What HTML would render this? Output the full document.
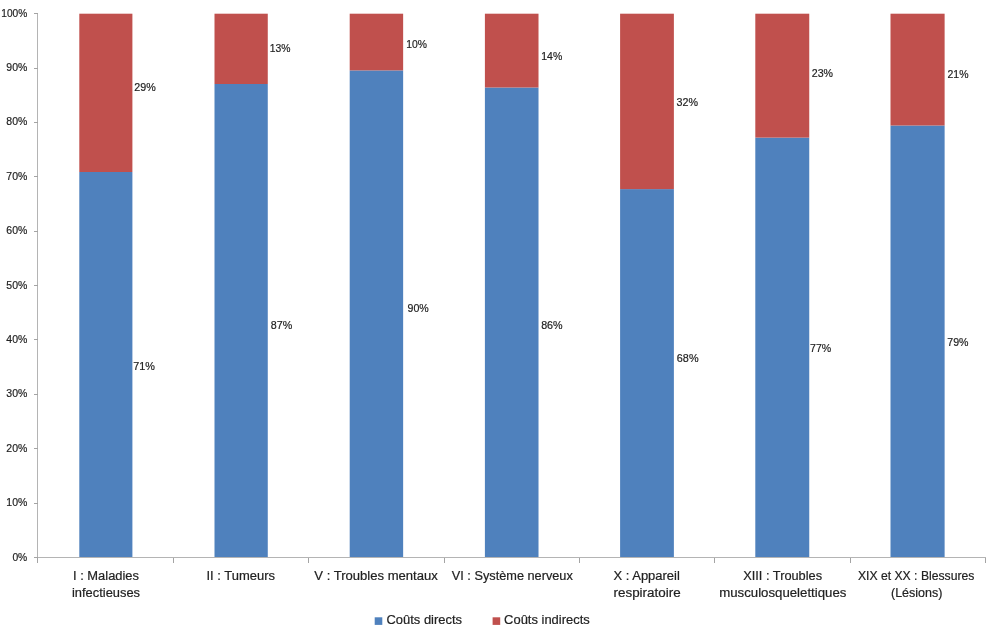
<!DOCTYPE html><html><head><meta charset="utf-8"><style>html,body{margin:0;padding:0;background:#fff;}svg{display:block;will-change:transform;}text{font-family:"Liberation Sans",sans-serif;fill:#222;stroke:#222;stroke-width:0.2px;}</style></head><body>
<svg width="1000" height="638" viewBox="0 0 1000 638">
<rect width="1000" height="638" fill="#fff"/>
<rect x="79.30" y="172.00" width="53.10" height="385.60" fill="#4F81BD"/>
<rect x="79.30" y="13.70" width="53.10" height="158.30" fill="#C0504D"/>
<rect x="214.50" y="84.00" width="53.27" height="473.60" fill="#4F81BD"/>
<rect x="214.50" y="13.70" width="53.27" height="70.30" fill="#C0504D"/>
<rect x="349.70" y="70.40" width="53.44" height="487.20" fill="#4F81BD"/>
<rect x="349.70" y="13.70" width="53.44" height="56.70" fill="#C0504D"/>
<rect x="484.90" y="87.50" width="53.61" height="470.10" fill="#4F81BD"/>
<rect x="484.90" y="13.70" width="53.61" height="73.80" fill="#C0504D"/>
<rect x="620.10" y="189.10" width="53.78" height="368.50" fill="#4F81BD"/>
<rect x="620.10" y="13.70" width="53.78" height="175.40" fill="#C0504D"/>
<rect x="755.30" y="137.60" width="53.95" height="420.00" fill="#4F81BD"/>
<rect x="755.30" y="13.70" width="53.95" height="123.90" fill="#C0504D"/>
<rect x="890.50" y="125.50" width="54.12" height="432.10" fill="#4F81BD"/>
<rect x="890.50" y="13.70" width="54.12" height="111.80" fill="#C0504D"/>
<g stroke="#b4b4b4" stroke-width="1" fill="none" shape-rendering="crispEdges">
<line x1="37.5" y1="13.70" x2="37.5" y2="558"/>
<line x1="33.5" y1="557.5" x2="986" y2="557.5"/>
<line x1="33.5" y1="557.50" x2="37.5" y2="557.50" stroke="#a4a4a4"/>
<line x1="33.5" y1="503.12" x2="37.5" y2="503.12" stroke="#a4a4a4"/>
<line x1="33.5" y1="448.74" x2="37.5" y2="448.74" stroke="#a4a4a4"/>
<line x1="33.5" y1="394.36" x2="37.5" y2="394.36" stroke="#a4a4a4"/>
<line x1="33.5" y1="339.98" x2="37.5" y2="339.98" stroke="#a4a4a4"/>
<line x1="33.5" y1="285.60" x2="37.5" y2="285.60" stroke="#a4a4a4"/>
<line x1="33.5" y1="231.22" x2="37.5" y2="231.22" stroke="#a4a4a4"/>
<line x1="33.5" y1="176.84" x2="37.5" y2="176.84" stroke="#a4a4a4"/>
<line x1="33.5" y1="122.46" x2="37.5" y2="122.46" stroke="#a4a4a4"/>
<line x1="33.5" y1="68.08" x2="37.5" y2="68.08" stroke="#a4a4a4"/>
<line x1="33.5" y1="13.70" x2="37.5" y2="13.70" stroke="#a4a4a4"/>
<line x1="37.50" y1="557.5" x2="37.50" y2="563" stroke="#a4a4a4"/>
<line x1="173.50" y1="557.5" x2="173.50" y2="563" stroke="#a4a4a4"/>
<line x1="308.50" y1="557.5" x2="308.50" y2="563" stroke="#a4a4a4"/>
<line x1="444.50" y1="557.5" x2="444.50" y2="563" stroke="#a4a4a4"/>
<line x1="579.50" y1="557.5" x2="579.50" y2="563" stroke="#a4a4a4"/>
<line x1="714.50" y1="557.5" x2="714.50" y2="563" stroke="#a4a4a4"/>
<line x1="850.50" y1="557.5" x2="850.50" y2="563" stroke="#a4a4a4"/>
<line x1="985.50" y1="557.5" x2="985.50" y2="563" stroke="#a4a4a4"/>
</g>
<text x="12.40" y="560.50" font-size="11.5" textLength="14.90" lengthAdjust="spacingAndGlyphs">0%</text>
<text x="6.30" y="506.12" font-size="11.5" textLength="21.00" lengthAdjust="spacingAndGlyphs">10%</text>
<text x="6.30" y="451.74" font-size="11.5" textLength="21.00" lengthAdjust="spacingAndGlyphs">20%</text>
<text x="6.30" y="397.36" font-size="11.5" textLength="21.00" lengthAdjust="spacingAndGlyphs">30%</text>
<text x="6.30" y="342.98" font-size="11.5" textLength="21.00" lengthAdjust="spacingAndGlyphs">40%</text>
<text x="6.30" y="288.60" font-size="11.5" textLength="21.00" lengthAdjust="spacingAndGlyphs">50%</text>
<text x="6.30" y="234.22" font-size="11.5" textLength="21.00" lengthAdjust="spacingAndGlyphs">60%</text>
<text x="6.30" y="179.84" font-size="11.5" textLength="21.00" lengthAdjust="spacingAndGlyphs">70%</text>
<text x="6.30" y="125.46" font-size="11.5" textLength="21.00" lengthAdjust="spacingAndGlyphs">80%</text>
<text x="6.30" y="71.08" font-size="11.5" textLength="21.00" lengthAdjust="spacingAndGlyphs">90%</text>
<text x="1.30" y="16.70" font-size="11.5" textLength="26.00" lengthAdjust="spacingAndGlyphs">100%</text>
<text x="134.25" y="91.10" font-size="11.5" textLength="21.50" lengthAdjust="spacingAndGlyphs">29%</text>
<text x="133.25" y="369.85" font-size="11.5" textLength="21.75" lengthAdjust="spacingAndGlyphs">71%</text>
<text x="269.75" y="52.30" font-size="11.5" textLength="20.75" lengthAdjust="spacingAndGlyphs">13%</text>
<text x="270.80" y="329.10" font-size="11.5" textLength="21.50" lengthAdjust="spacingAndGlyphs">87%</text>
<text x="406.25" y="48.35" font-size="11.5" textLength="20.75" lengthAdjust="spacingAndGlyphs">10%</text>
<text x="407.55" y="312.10" font-size="11.5" textLength="21.25" lengthAdjust="spacingAndGlyphs">90%</text>
<text x="541.25" y="60.25" font-size="11.5" textLength="21.00" lengthAdjust="spacingAndGlyphs">14%</text>
<text x="541.15" y="329.35" font-size="11.5" textLength="21.50" lengthAdjust="spacingAndGlyphs">86%</text>
<text x="676.50" y="106.10" font-size="11.5" textLength="21.50" lengthAdjust="spacingAndGlyphs">32%</text>
<text x="676.80" y="362.10" font-size="11.5" textLength="21.75" lengthAdjust="spacingAndGlyphs">68%</text>
<text x="811.75" y="77.35" font-size="11.5" textLength="21.25" lengthAdjust="spacingAndGlyphs">23%</text>
<text x="810.00" y="352.05" font-size="11.5" textLength="21.25" lengthAdjust="spacingAndGlyphs">77%</text>
<text x="947.50" y="78.35" font-size="11.5" textLength="21.00" lengthAdjust="spacingAndGlyphs">21%</text>
<text x="947.25" y="345.85" font-size="11.5" textLength="21.25" lengthAdjust="spacingAndGlyphs">79%</text>
<text x="73.00" y="580.20" font-size="12.5" textLength="66.00" lengthAdjust="spacingAndGlyphs">I : Maladies</text>
<text x="72.00" y="596.80" font-size="12.5" textLength="68.00" lengthAdjust="spacingAndGlyphs">infectieuses</text>
<text x="206.50" y="580.20" font-size="12.5" textLength="68.50" lengthAdjust="spacingAndGlyphs">II : Tumeurs</text>
<text x="314.30" y="580.20" font-size="12.5" textLength="123.50" lengthAdjust="spacingAndGlyphs">V : Troubles mentaux</text>
<text x="451.80" y="580.20" font-size="12.5" textLength="121.00" lengthAdjust="spacingAndGlyphs">VI : Système nerveux</text>
<text x="613.50" y="580.20" font-size="12.5" textLength="66.30" lengthAdjust="spacingAndGlyphs">X : Appareil</text>
<text x="613.50" y="596.80" font-size="12.5" textLength="67.10" lengthAdjust="spacingAndGlyphs">respiratoire</text>
<text x="743.20" y="580.20" font-size="12.5" textLength="78.90" lengthAdjust="spacingAndGlyphs">XIII : Troubles</text>
<text x="719.20" y="596.80" font-size="12.5" textLength="127.20" lengthAdjust="spacingAndGlyphs">musculosquelettiques</text>
<text x="857.90" y="580.20" font-size="12.5" textLength="116.50" lengthAdjust="spacingAndGlyphs">XIX et XX : Blessures</text>
<text x="891.00" y="596.80" font-size="12.5" textLength="51.40" lengthAdjust="spacingAndGlyphs">(Lésions)</text>
<rect x="374.7" y="617.3" width="7.6" height="7.6" fill="#4F81BD"/>
<rect x="492.6" y="617.3" width="7.6" height="7.6" fill="#C0504D"/>
<text x="386.5" y="623.8" font-size="12.5" textLength="75.5" lengthAdjust="spacingAndGlyphs">Coûts directs</text>
<text x="504.1" y="623.8" font-size="12.5" textLength="85.7" lengthAdjust="spacingAndGlyphs">Coûts indirects</text>
</svg></body></html>
